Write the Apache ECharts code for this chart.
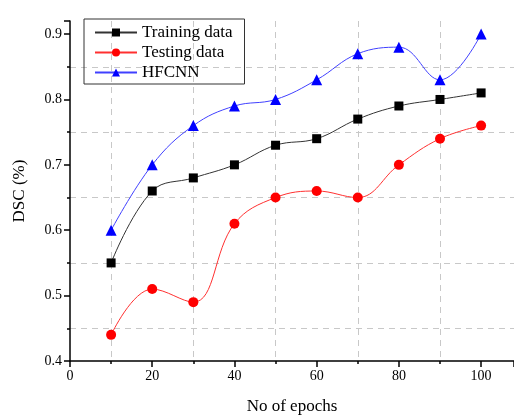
<!DOCTYPE html>
<html>
<head>
<meta charset="UTF-8">
<title>DSC vs epochs</title>
<script src="https://cdn.jsdelivr.net/npm/echarts@6/dist/echarts.min.js"></script>
<style>
  html, body { margin: 0; padding: 0; background: #fff; }
  #main { width: 514px; height: 415px; }
</style>
</head>
<body>
<div id="main"></div>
<script type="text/javascript">
// epochs on the x axis
var epochs = [10, 20, 30, 40, 50, 60, 70, 80, 90, 100];
// DSC values
var trainingData = [0.55, 0.66, 0.68, 0.70, 0.73, 0.74, 0.77, 0.79, 0.80, 0.81];
var testingData  = [0.44, 0.51, 0.49, 0.61, 0.65, 0.66, 0.65, 0.70, 0.74, 0.76];
var hfcnnData    = [0.60, 0.70, 0.76, 0.79, 0.80, 0.83, 0.87, 0.88, 0.83, 0.90];

function pairs(ys) {
  var out = [];
  for (var i = 0; i < epochs.length; i++) out.push([epochs[i], ys[i]]);
  return out;
}

var serif = 'Liberation Serif';
var myChart = echarts.init(document.getElementById('main'));

var option = {
  animation: false,
  textStyle: { fontFamily: serif },
  grid: { left: 70, right: 0, top: 21, bottom: 54, outerBoundsMode: 'none', containLabel: false },
  legend: {
    orient: 'vertical',
    left: 84, top: 19,
    padding: [5, 12, 3, 10],
    itemGap: 3,
    itemWidth: 42, itemHeight: 10,
    borderColor: '#333', borderWidth: 1,
    textStyle: { fontFamily: serif, fontSize: 17, color: '#000' },
    data: ['Training data', 'Testing data', 'HFCNN']
  },
  xAxis: {
    type: 'value',
    min: 0, max: 108, interval: 20,
    name: 'No of epochs', nameLocation: 'middle', nameGap: 37,
    nameTextStyle: { fontFamily: serif, fontSize: 17, color: '#000' },
    axisLine: { onZero: false, lineStyle: { color: '#000', width: 1.5 } },
    axisTick: { length: 6, lineStyle: { color: '#000', width: 1.5 } },
    minorTick: { show: true, splitNumber: 2, length: 3, lineStyle: { color: '#000', width: 1.5 } },
    axisLabel: { fontFamily: serif, fontSize: 14, color: '#000', margin: 8, showMaxLabel: false },
    splitLine: { show: false },
    minorSplitLine: { show: true, lineStyle: { color: '#c8c8c8', type: [6, 5], width: 1 } }
  },
  yAxis: {
    type: 'value',
    min: 0.4, max: 0.92, interval: 0.1,
    name: 'DSC (%)', nameLocation: 'middle', nameGap: 42,
    nameTextStyle: { fontFamily: serif, fontSize: 17, color: '#000' },
    axisLine: { show: true, lineStyle: { color: '#000', width: 1.5 } },
    axisTick: { length: 6, lineStyle: { color: '#000', width: 1.5 } },
    minorTick: { show: true, splitNumber: 2, length: 3, lineStyle: { color: '#000', width: 1.5 } },
    axisLabel: { fontFamily: serif, fontSize: 14, color: '#000', margin: 8, showMaxLabel: false,
      formatter: function (v) { return v.toFixed(1); } },
    splitLine: { show: false },
    minorSplitLine: { show: true, lineStyle: { color: '#c8c8c8', type: [6, 5], width: 1 } }
  },
  series: [
    {
      name: 'Training data', type: 'line', smooth: 0.4,
      data: pairs(trainingData),
      symbol: 'rect', symbolSize: 9,
      itemStyle: { color: '#000' },
      lineStyle: { color: '#333', width: 1 }
    },
    {
      name: 'Testing data', type: 'line', smooth: 0.4,
      data: pairs(testingData),
      symbol: 'circle', symbolSize: 10,
      itemStyle: { color: '#ff0000' },
      lineStyle: { color: '#ff3030', width: 1 }
    },
    {
      name: 'HFCNN', type: 'line', smooth: 0.4,
      data: pairs(hfcnnData),
      symbol: 'triangle', symbolSize: 11,
      itemStyle: { color: '#0000ff' },
      lineStyle: { color: '#4040ff', width: 1 }
    }
  ]
};

myChart.setOption(option);
</script>
</body>
</html>
